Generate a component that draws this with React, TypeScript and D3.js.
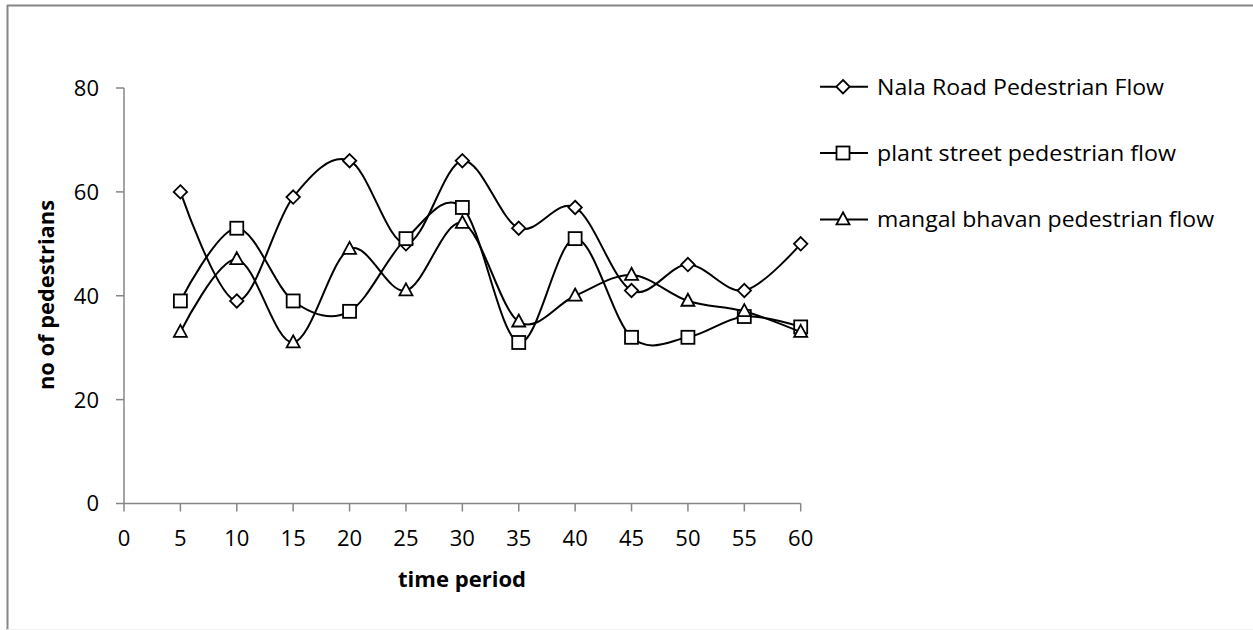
import React from "react";
import * as d3 from "d3";

const periods = [5, 10, 15, 20, 25, 30, 35, 40, 45, 50, 55, 60];
const nalaRoad = [60, 39, 59, 66, 50, 66, 53, 57, 41, 46, 41, 50];
const plantStreet = [39, 53, 39, 37, 51, 57, 31, 51, 32, 32, 36, 34];
const mangalBhavan = [33, 47, 31, 49, 41, 54, 35, 40, 44, 39, 37, 33];
const seriesNames = [
  "Nala Road Pedestrian Flow",
  "plant street pedestrian flow",
  "mangal bhavan pedestrian flow",
];
const xTicks = [0, 5, 10, 15, 20, 25, 30, 35, 40, 45, 50, 55, 60];
const yTicks = [0, 20, 40, 60, 80];

const W = 1253;
const H = 630;
const FONT = "'Open Sans', sans-serif";
const AXIS = "#868686";

function Marker({ kind, x, y }: { kind: string; x: number; y: number }) {
  const sw = 1.8;
  if (kind === "diamond") {
    const r = 6.7;
    return (
      <path
        d={`M${x},${y - r}L${x + r},${y}L${x},${y + r}L${x - r},${y}Z`}
        fill="#fff"
        stroke="#000"
        strokeWidth={sw}
      />
    );
  }
  if (kind === "square") {
    const s = 13;
    return (
      <rect x={x - s / 2} y={y - s / 2} width={s} height={s} fill="#fff" stroke="#000" strokeWidth={sw} />
    );
  }
  const w = 13;
  const h = 12;
  return (
    <path
      d={`M${x},${y - h * 0.6}L${x + w / 2},${y + h * 0.4}L${x - w / 2},${y + h * 0.4}Z`}
      fill="#fff"
      stroke="#000"
      strokeWidth={sw}
    />
  );
}

export default function App() {
  const x = d3.scaleLinear().domain([0, 60]).range([124, 800.7]);
  const y = d3.scaleLinear().domain([0, 80]).range([503.5, 88]);
  const series = [
    { name: seriesNames[0], values: nalaRoad, kind: "diamond" },
    { name: seriesNames[1], values: plantStreet, kind: "square" },
    { name: seriesNames[2], values: mangalBhavan, kind: "triangle" },
  ];
  const line = d3
    .line<number>()
    .x((_, i) => x(periods[i]))
    .y((d) => y(d))
    .curve(d3.curveCatmullRom.alpha(0));
  const legendY = [86.7, 153, 219.5];

  return (
    <svg
      width={W}
      height={H}
      style={{ position: "absolute", left: 0, top: 0, background: "#fff" }}
      fontFamily={FONT}
    >
      <rect x={0} y={0} width={W} height={H} fill="#fff" />
      <line x1={7} x2={1253} y1={5.5} y2={5.5} stroke={AXIS} strokeWidth={2} />
      <line x1={7.5} x2={7.5} y1={5} y2={630} stroke={AXIS} strokeWidth={2} />
      <line x1={7} x2={1253} y1={629.5} y2={629.5} stroke="#eeeeee" strokeWidth={1} />

      {/* Y axis */}
      <line x1={124} x2={124} y1={y(80)} y2={y(0)} stroke={AXIS} strokeWidth={1.5} />
      {yTicks.map((t) => (
        <g key={"y" + t}>
          <line x1={116} x2={124} y1={y(t)} y2={y(t)} stroke={AXIS} strokeWidth={1.5} />
          <text x={99} y={y(t)} dy="0.36em" textAnchor="end" fontSize={22} fill="#000">
            {t}
          </text>
        </g>
      ))}

      {/* X axis */}
      <line x1={x(0)} x2={x(60)} y1={y(0)} y2={y(0)} stroke={AXIS} strokeWidth={1.5} />
      {xTicks.map((t) => (
        <g key={"x" + t}>
          <line x1={x(t)} x2={x(t)} y1={y(0)} y2={y(0) + 8} stroke={AXIS} strokeWidth={1.5} />
          <text x={x(t)} y={538} dy="0.36em" textAnchor="middle" fontSize={22} fill="#000">
            {t}
          </text>
        </g>
      ))}

      <text
        x={462}
        y={587}
        textAnchor="middle"
        fontSize={21}
        fontWeight="bold"
        fill="#000"
        textLength={128}
        lengthAdjust="spacingAndGlyphs"
      >
        time period
      </text>
      <text
        transform="translate(54,295) rotate(-90)"
        textAnchor="middle"
        fontSize={21}
        fontWeight="bold"
        fill="#000"
        textLength={190}
        lengthAdjust="spacingAndGlyphs"
      >
        no of pedestrians
      </text>

      {/* Series */}
      {series.map((s) => (
        <g key={s.name}>
          <path d={line(s.values) || ""} fill="none" stroke="#000" strokeWidth={2} />
          {s.values.map((v, i) => (
            <Marker key={i} kind={s.kind} x={x(periods[i])} y={y(v)} />
          ))}
        </g>
      ))}

      {/* Legend */}
      {series.map((s, i) => (
        <g key={"lg" + s.name}>
          <line x1={820} x2={868} y1={legendY[i]} y2={legendY[i]} stroke="#000" strokeWidth={2} />
          <Marker kind={s.kind} x={843} y={legendY[i]} />
          <text
            x={877}
            y={legendY[i]}
            dy="0.36em"
            fontSize={22}
            fill="#000"
            textLength={[287, 299, 337][i]}
            lengthAdjust="spacingAndGlyphs"
          >
            {s.name}
          </text>
        </g>
      ))}
    </svg>
  );
}
